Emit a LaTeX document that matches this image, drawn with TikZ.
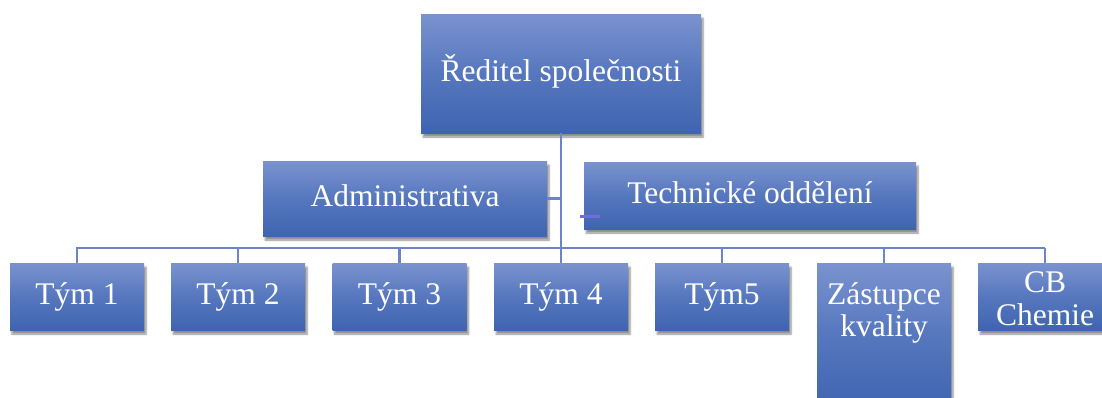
\documentclass[tikz,border=0pt]{standalone}
\usepackage{fontspec}
\setmainfont{Liberation Serif}
\usetikzlibrary{shadows,shadows.blur}
\definecolor{boxtop}{HTML}{7A93CF}
\definecolor{boxmid}{HTML}{5677BE}
\definecolor{boxbot}{HTML}{3F64B0}
\definecolor{linkcol}{HTML}{6C85CA}
\definecolor{stubcol}{HTML}{6E6FD8}
\tikzset{
  orgbox/.style={rectangle, inner sep=0pt, draw=none,
    top color=boxtop, bottom color=boxbot, middle color=boxmid,
    blur shadow={shadow xshift=2pt, shadow yshift=-4pt, shadow blur steps=6, shadow opacity=45},
    text=white, font=\fontsize{31.5}{33}\selectfont,
    text height=22pt, text depth=6.3pt},
  team/.style={orgbox, minimum width=134pt, minimum height=67pt},
  lbl/.style={text=white, inner sep=0pt, align=center,
    font=\fontsize{31.5}{32.5}\selectfont},
  link/.style={draw=linkcol, line width=2.8pt},
  stub/.style={draw=stubcol, line width=2.8pt}
}
\begin{document}
\begin{tikzpicture}[x=1pt, y=-1pt]
\useasboundingbox (0,0) rectangle (1102,397);
\clip (0,0) rectangle (1102,397);

% junction points of the tree
\coordinate (hubT) at (561,248);
\coordinate (hubL) at (76,248);
\coordinate (hubR) at (1045,248);
\coordinate (admJ) at (561,198.5);

% boxes
\node[orgbox, minimum width=280pt, minimum height=119pt] (dir) at (561,73.5) {Ředitel společnosti};
\node[orgbox, minimum width=284pt, minimum height=75pt] (adm) at (405,198.5) {Administrativa};
\node[orgbox, minimum width=332pt, minimum height=67pt] (tech) at (750,195.5) {Technické oddělení};

\node[team] (t1) at (77,296.5) {Tým 1};
\node[team] (t2) at (238,296.5) {Tým 2};
\node[team] (t3) at (399.5,296.5) {Tým 3};
\node[team] (t4) at (561,296.5) {Tým 4};
\node[team] (t5) at (722,296.5) {Tým5};
\node[team, minimum height=145pt, anchor=north] (zk) at (884,263) {};
\node[lbl] (zkt) at (884,313) {Zástupce\\kvality};
\node[team] (cb) at (1045,296.5) {};
\node[lbl] (cbt) at (1045,298.5) {CB\\Chemie};

% tree lines
\draw[link] (dir.south) -- (hubT);
\draw[link] (adm.east |- admJ) -- (admJ);
\draw[link] (hubL) -- (hubR);
\foreach \n in {t1,t2,t3,t4,t5,zk,cb}
  \draw[link] (\n.north) -- (\n.north |- hubT);
\draw[stub] ([shift={(-4,-13)}]tech.south west) -- ++(20,0);
\end{tikzpicture}
\end{document}
